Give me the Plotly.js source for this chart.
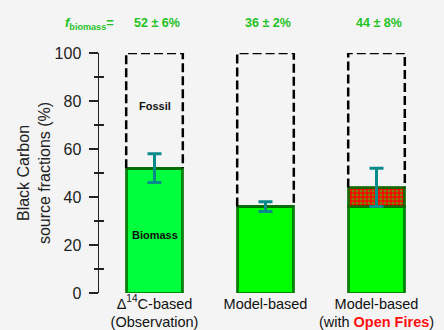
<!DOCTYPE html>
<html>
<head>
<meta charset="utf-8">
<script src="https://cdn.plot.ly/plotly-3.0.1.min.js"></script>
<style>
  html, body { margin: 0; padding: 0; background: #f4f4f4; }
  #chart { width: 444px; height: 330px; }
</style>
</head>
<body>
<div id="chart"></div>
<script>
// Black carbon source apportionment: biomass vs fossil fractions
const categories = [
  '\u0394<sup>14</sup>C-based<br>(Observation)',
  'Model-based',
  'Model-based<br>(with <b><span style="color:#ff1010">Open Fires</span></b>)'
];
const biomassBase = [52, 36, 36];   // biomass share without open fires
const openFires = [0, 0, 8];        // added share from open fires
const biomassTotal = [52, 36, 44];  // f_biomass
const uncertainty = [6, 2, 8];      // ± on f_biomass
const fractionLabels = ['52 ± 6%', '36 ± 2%', '44 ± 8%'];
const yTicks = [0, 20, 40, 60, 80, 100];
const yMinorTicks = [10, 30, 50, 70, 90];
const fullScale = 100;

const xPos = categories.map((_, i) => i);
const barWidth = 0.51;
const halfW = barWidth / 2;
const font = 'Liberation Sans, Arial, sans-serif';
const labelGreen = '#1fc21f';
const outline = { color: 'rgba(0,105,0,0.8)', width: 3 };

// Dashed outline of the fossil share (from f_biomass up to 100 %)
const boxX = [], boxY = [];
xPos.forEach((x, i) => {
  boxX.push(x - halfW, x - halfW, x + halfW, x + halfW, null);
  boxY.push(biomassTotal[i], fullScale, fullScale, biomassTotal[i], null);
});

const traces = [
  {
    type: 'bar', x: xPos, y: biomassBase, width: barWidth,
    marker: { color: ['#00ff3c', '#00ff00', '#00ff00'], line: outline },
    hoverinfo: 'y'
  },
  {
    type: 'bar', x: xPos, y: openFires, width: barWidth,
    marker: {
      color: '#ff0000', line: outline,
      pattern: { shape: '.', fgcolor: '#00ff00', size: 4, solidity: 0.45, fillmode: 'overlay' }
    },
    hoverinfo: 'y'
  },
  {
    type: 'scatter', mode: 'lines', x: boxX, y: boxY,
    line: { color: '#000', width: 2.5, dash: '9px,4px' },
    cliponaxis: false, hoverinfo: 'skip'
  },
  {
    type: 'scatter', mode: 'markers', x: xPos, y: biomassTotal,
    marker: { size: 1, color: 'rgba(0,0,0,0)' },
    error_y: { type: 'data', array: uncertainty, visible: true, color: '#0a8a8a', thickness: 3, width: 7 },
    cliponaxis: false, hoverinfo: 'y'
  },
  {
    // carrier for the outer half of the minor ticks
    type: 'scatter', mode: 'none', x: [0], y: [0], yaxis: 'y2', hoverinfo: 'skip'
  }
];

const annotations = [
  {
    xref: 'paper', yref: 'paper', x: 0.051, y: 1.125, xanchor: 'right', yanchor: 'middle',
    text: '<b><i>f</i><sub>biomass</sub>=</b>', showarrow: false,
    font: { family: font, size: 13, color: labelGreen }
  },
  {
    xref: 'x', yref: 'y', x: 0, y: 78, text: '<b>Fossil</b>', showarrow: false,
    font: { family: font, size: 11, color: '#111' }
  },
  {
    xref: 'x', yref: 'y', x: 0, y: 24, text: '<b>Biomass</b>', showarrow: false,
    font: { family: font, size: 11, color: '#111' }
  }
];
fractionLabels.forEach((t, i) => annotations.push({
  xref: 'x', yref: 'paper', x: xPos[i], y: 1.125, xshift: 2, yanchor: 'middle',
  text: '<b>' + t + '</b>', showarrow: false,
  font: { family: font, size: 12.5, color: labelGreen }
}));

const layout = {
  width: 444, height: 330,
  margin: { l: 99, r: 12, t: 53, b: 37 },
  paper_bgcolor: '#f4f4f4', plot_bgcolor: '#f4f4f4',
  barmode: 'stack', showlegend: false,
  font: { family: font, color: '#222' },
  xaxis: {
    range: [-0.5, 2.5], tickvals: xPos, ticktext: categories,
    showgrid: false, zeroline: false, showline: false, ticks: '',
    tickfont: { family: font, size: 14.5, color: '#111' },
    fixedrange: true
  },
  yaxis: {
    range: [0, fullScale], tickvals: yTicks, ticks: 'outside', ticklen: 9, tickwidth: 1.5,
    tickcolor: '#222', showline: true, linecolor: '#222', linewidth: 1.5,
    showgrid: false, zeroline: false, ticklabelstandoff: 4,
    tickfont: { family: font, size: 16, color: '#222' },
    minor: { tickvals: yMinorTicks, ticks: 'inside', ticklen: 5, tickwidth: 1.5, tickcolor: '#222', showgrid: false },
    title: { text: 'Black Carbon<br>source fractions (%)', font: { family: font, size: 16, color: '#222' }, standoff: 0 },
    fixedrange: true
  },
  yaxis2: {
    overlaying: 'y', side: 'left', range: [0, fullScale], tickvals: yMinorTicks,
    ticks: 'outside', ticklen: 4, tickwidth: 1.5, tickcolor: '#222',
    showticklabels: false, showline: false, showgrid: false, zeroline: false, fixedrange: true
  },
  annotations: annotations
};

Plotly.newPlot('chart', traces, layout, { displayModeBar: false, staticPlot: true });
</script>
</body>
</html>
